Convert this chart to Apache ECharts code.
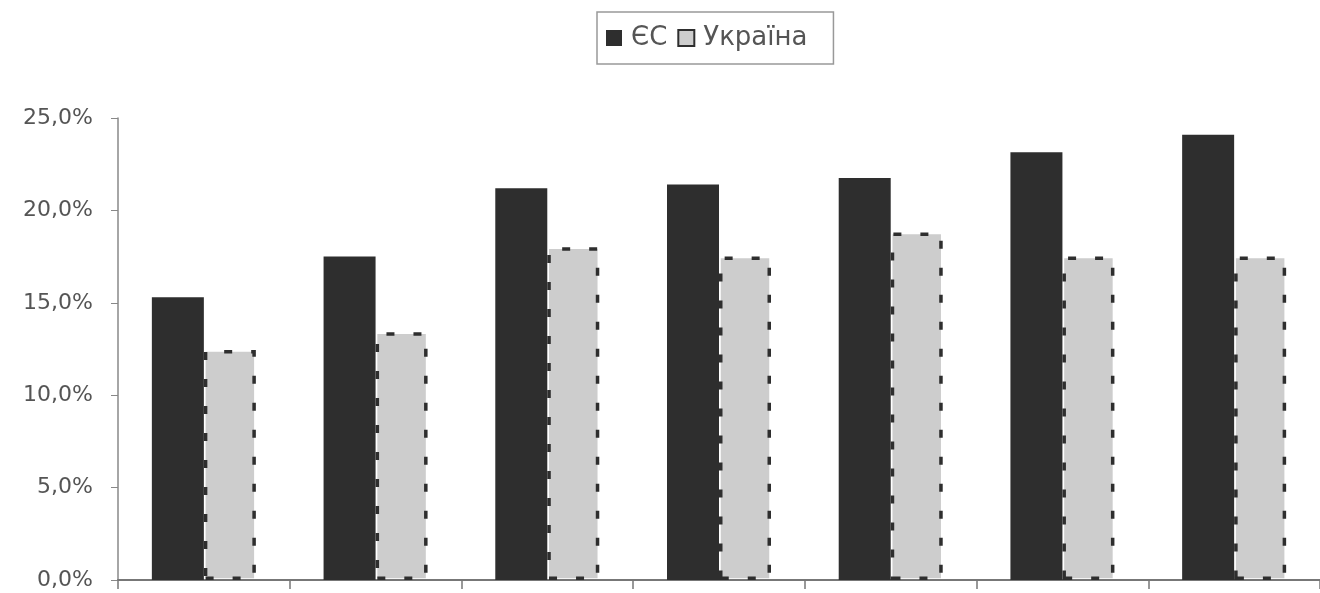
<!DOCTYPE html>
<html><head><meta charset="utf-8">
<script src="https://cdn.jsdelivr.net/npm/echarts@6/dist/echarts.min.js"></script>
<style>html,body{margin:0;padding:0;background:#fff}#c{width:1320px;height:593px}</style>
</head><body><div id="c"></div>
<script>
const categories = ['1','2','3','4','5','6','7'];
const seriesNames = ['ЄС', 'Україна'];
const euValues = [15.3, 17.5, 21.2, 21.4, 21.75, 23.15, 24.1];
const uaValues = [12.45, 13.4, 18.0, 17.5, 18.8, 17.5, 17.5];
const yTicks = [0, 5, 10, 15, 20, 25];

const chart = echarts.init(document.getElementById('c'));
const fmt = v => v.toFixed(1).replace('.', ',') + '%';
chart.setOption({
  animation: false,
  backgroundColor: '#fff',
  legend: {
    top: 12, left: 597,
    padding: [13, 26, 13, 9],
    borderColor: '#999', borderWidth: 1.5,
    icon: 'rect',
    itemWidth: 16, itemHeight: 16, itemGap: 10,
    textStyle: { fontFamily: 'DejaVu Sans', fontSize: 26, color: '#555', padding: [0, 0, 0, 4] },
    data: seriesNames
  },
  grid: { left: 118, right: 0, top: 118, bottom: 13, containLabel: false },
  xAxis: {
    type: 'category', data: categories,
    axisLine: { lineStyle: { color: '#777', width: 2 } },
    axisTick: { show: true, length: 9, lineStyle: { color: '#777', width: 1.5 } },
    axisLabel: { show: false }
  },
  yAxis: {
    type: 'value', min: yTicks[0], max: yTicks[yTicks.length - 1], interval: 5,
    axisLine: { show: true, lineStyle: { color: '#888', width: 1.5 } },
    axisTick: { show: true, length: 7, lineStyle: { color: '#888' } },
    splitLine: { show: false },
    axisLabel: { formatter: fmt, fontFamily: 'DejaVu Sans', fontSize: 22, color: '#555', margin: 25 }
  },
  series: [
    { name: seriesNames[0], type: 'bar', data: euValues, barWidth: 52, barGap: '0%',
      itemStyle: { color: '#2e2e2e' } },
    { name: seriesNames[1], type: 'bar', data: uaValues, barWidth: 52,
      itemStyle: { color: '#cdcdcd', borderColor: '#2e2e2e', borderWidth: 3.5,
        borderType: [8, 19], borderDashOffset: 0 } }
  ]
});
</script></body></html>
